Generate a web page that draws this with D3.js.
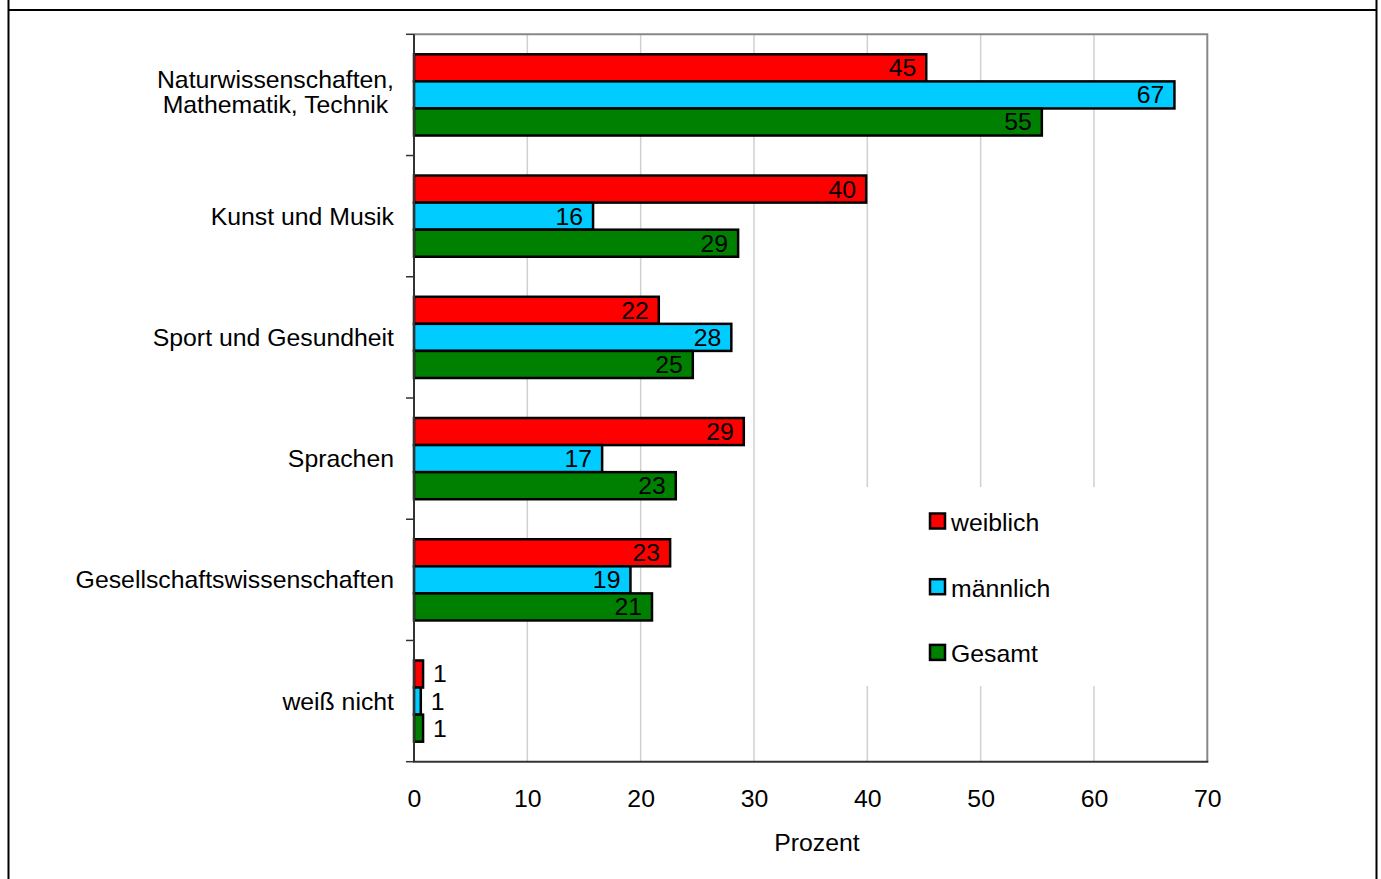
<!DOCTYPE html>
<html lang="de">
<head>
<meta charset="utf-8">
<script src="https://cdn.jsdelivr.net/npm/d3@7"></script>
<style>
  html, body { margin: 0; padding: 0; background: #fff; }
  svg { display: block; font-family: "Liberation Sans", Arial, sans-serif; }
</style>
</head>
<body>
<svg id="chart" width="1381" height="879"></svg>
<script>
// Fachbereiche (Kategorien), von oben nach unten
const categories = [
  ["Naturwissenschaften,", "Mathematik, Technik"],
  ["Kunst und Musik"],
  ["Sport und Gesundheit"],
  ["Sprachen"],
  ["Gesellschaftswissenschaften"],
  ["weiß nicht"]
];

// Anteile in Prozent je Gruppe
const weiblich = [45.2, 39.9, 21.6, 29.1, 22.6, 0.8];
const maennlich = [67.1, 15.8, 28.0, 16.6, 19.1, 0.6];
const gesamt   = [55.4, 28.6, 24.6, 23.1, 21.0, 0.8];

const seriesNames  = ["weiblich", "männlich", "Gesamt"];
const seriesColors = ["#ff0000", "#00ccff", "#008000"];
const seriesValues = [weiblich, maennlich, gesamt];

const xTicks = [0, 10, 20, 30, 40, 50, 60, 70];
const xTitle = "Prozent";

const FS = 24.8;

const svg = d3.select("#chart");
const W = 1381, H = 879;

// Äußerer Rahmen
svg.append("line").attr("x1", 8.5).attr("x2", 8.5).attr("y1", 0).attr("y2", H)
  .attr("stroke", "#000").attr("stroke-width", 2);
svg.append("line").attr("x1", 1376.5).attr("x2", 1376.5).attr("y1", 0).attr("y2", H)
  .attr("stroke", "#000").attr("stroke-width", 2);
svg.append("line").attr("x1", 8.5).attr("x2", 1376.5).attr("y1", 10).attr("y2", 10)
  .attr("stroke", "#000").attr("stroke-width", 2);

// Plotbereich
const plot = { left: 414, right: 1207.3, top: 34.3, bottom: 761.7 };

const x = d3.scaleLinear().domain([0, 70]).range([plot.left, plot.right]);
const catIdx = d3.range(categories.length);
const y0 = d3.scaleBand().domain(catIdx).range([plot.top, plot.bottom])
  .paddingInner(0.33).paddingOuter(0.165);
const y1 = d3.scaleBand().domain(d3.range(seriesNames.length)).range([0, y0.bandwidth()]);

// Gitterlinien
svg.append("g").selectAll("line").data(xTicks.filter(t => t > 0 && t < 70)).join("line")
  .attr("x1", d => x(d)).attr("x2", d => x(d))
  .attr("y1", plot.top).attr("y2", plot.bottom)
  .attr("stroke", "#d0d0d0").attr("stroke-width", 1.5);

// Rahmen oben / rechts
svg.append("path")
  .attr("d", `M${plot.left},${plot.top}H${plot.right}V${plot.bottom}`)
  .attr("fill", "none").attr("stroke", "#888").attr("stroke-width", 2);

// Legendenhintergrund (verdeckt die Gitterlinien)
svg.append("rect").attr("x", 860).attr("y", 487).attr("width", 290).attr("height", 199)
  .attr("fill", "#fff");

// Balken
const groups = svg.append("g").selectAll("g").data(catIdx).join("g")
  .attr("transform", i => `translate(0,${y0(i)})`);

groups.each(function(i) {
  const g = d3.select(this);
  seriesValues.forEach((vals, s) => {
    const v = vals[i];
    g.append("rect")
      .attr("x", x(0)).attr("y", y1(s))
      .attr("width", x(v) - x(0)).attr("height", y1.bandwidth())
      .attr("fill", seriesColors[s]).attr("stroke", "#000").attr("stroke-width", 2.5);
    const label = d3.format(".0f")(v);
    const inside = v >= 3;
    g.append("text")
      .attr("x", inside ? x(v) - 10 : x(v) + 10)
      .attr("y", y1(s) + y1.bandwidth() / 2)
      .attr("dy", "0.34em")
      .attr("text-anchor", inside ? "end" : "start")
      .attr("font-size", FS).attr("fill", "#000")
      .text(label);
  });
});

// Achsenlinien
svg.append("line").attr("x1", plot.left).attr("x2", plot.left)
  .attr("y1", plot.top).attr("y2", plot.bottom)
  .attr("stroke", "#333").attr("stroke-width", 2);
svg.append("line").attr("x1", plot.left - 1).attr("x2", plot.right + 1)
  .attr("y1", plot.bottom).attr("y2", plot.bottom)
  .attr("stroke", "#333").attr("stroke-width", 2);

// Teilstriche an den Kategoriegrenzen
const step = y0.step();
const boundaries = d3.range(categories.length + 1).map(k => plot.top + k * step);
svg.append("g").selectAll("line").data(boundaries).join("line")
  .attr("x1", plot.left - 8).attr("x2", plot.left)
  .attr("y1", d => d).attr("y2", d => d)
  .attr("stroke", "#333").attr("stroke-width", 1.5);

// Kategoriebeschriftungen
const catLabels = svg.append("g").attr("font-size", FS).attr("fill", "#000");
catIdx.forEach(i => {
  const lines = categories[i];
  const lh = 25.5;
  const cy = y0(i) + y0.bandwidth() / 2 - (lines.length > 1 ? 3 : 0);
  const t = catLabels.append("text").attr("fill", "#000");
  lines.forEach((ln, k) => {
    t.append("tspan")
      .attr("y", cy + (k - (lines.length - 1) / 2) * lh)
      .attr("dy", "0.34em")
      .text(ln);
  });
  // mehrzeilige Beschriftung: Zeilen zentriert, Block rechtsbündig
  const widths = t.selectAll("tspan").nodes().map(n => n.getComputedTextLength());
  const maxW = d3.max(widths);
  const right = plot.left - 20;
  if (lines.length > 1) {
    t.attr("text-anchor", "middle");
    t.selectAll("tspan").attr("x", right - maxW / 2);
  } else {
    t.attr("text-anchor", "end");
    t.selectAll("tspan").attr("x", right);
  }
});

// x-Achse
const xAxis = d3.axisBottom(x).tickValues(xTicks).tickSize(0).tickPadding(27.4)
  .tickFormat(d3.format("d"));
const gx = svg.append("g").attr("transform", `translate(0,${plot.bottom})`).call(xAxis);
gx.select(".domain").remove();
gx.selectAll("text").attr("font-size", FS).attr("fill", "#000")
  .attr("font-family", "'Liberation Sans', Arial, sans-serif");

svg.append("text").attr("x", 817).attr("y", 851)
  .attr("text-anchor", "middle").attr("font-size", FS).attr("fill", "#000")
  .text(xTitle);

// Legende
const legend = svg.append("g").attr("transform", "translate(929,0)");
const legY = [521.5, 587.2, 652.9];
seriesNames.forEach((name, s) => {
  legend.append("rect")
    .attr("x", 1).attr("y", legY[s] - 8).attr("width", 15).attr("height", 15)
    .attr("fill", seriesColors[s]).attr("stroke", "#000").attr("stroke-width", 2.5);
  legend.append("text")
    .attr("x", 22).attr("y", legY[s] + 1).attr("dy", "0.34em")
    .attr("font-size", FS).attr("fill", "#000")
    .text(name);
});
</script>
</body>
</html>
